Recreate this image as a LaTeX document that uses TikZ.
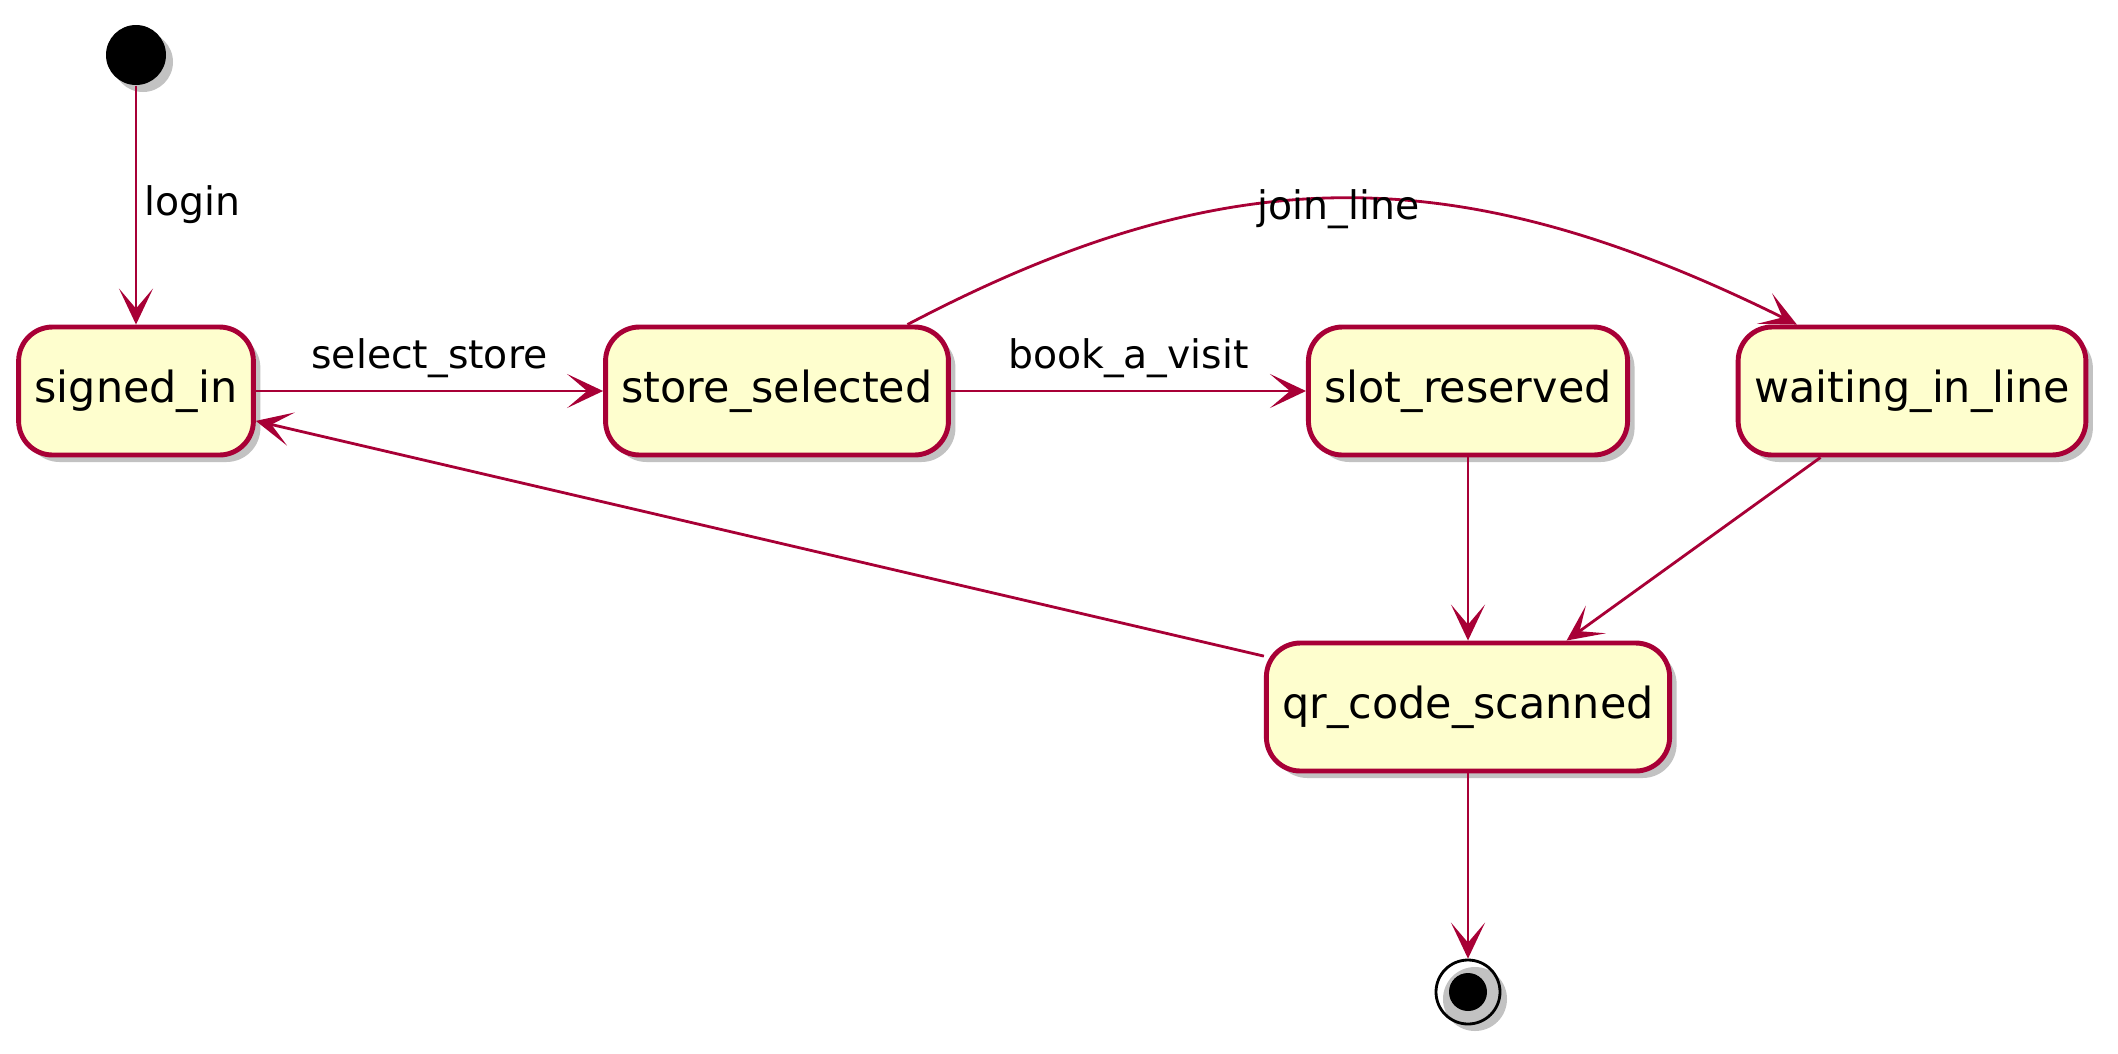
\documentclass[tikz,border=0pt]{standalone}
\usepackage{fontspec}
\setmainfont{DejaVu Sans}
\usepackage{xcolor}
\usetikzlibrary{arrows.meta,shadows}

\definecolor{umlred}{HTML}{A80036}
\definecolor{umlyellow}{HTML}{FEFECE}

\tikzset{
  softshadow/.style={drop shadow={shadow xshift=0.07cm, shadow yshift=-0.07cm, fill=black!40, opacity=0.6}},
  statebox/.style={draw=umlred, line width=1.4pt, fill=umlyellow, rounded corners=0.34cm,
    minimum height=1.28cm, inner xsep=0.16cm, font=\fontsize{12.2}{14}\selectfont, softshadow},
  startdot/.style={circle, fill=black, minimum size=0.6cm, inner sep=0pt, softshadow},
  enddot/.style={circle, draw=black, line width=0.8pt, minimum size=0.64cm, inner sep=0pt, softshadow},
  trans/.style={draw=umlred, line width=0.8pt, -{Stealth[length=3.6mm, width=3.4mm, inset=2mm, umlred]}},
  translabel/.style={font=\fontsize{11.2}{13}\selectfont, text=black},
}

\begin{document}
\begin{tikzpicture}
\useasboundingbox (0,0) rectangle (21.18,-10.53);
%% states
\node[startdot] (start) at (1.36,-0.55) {};
\node[statebox] (signin) at (1.36,-3.91) {signed\_in};
\node[statebox] (store) at (7.77,-3.91) {store\_selected};
\node[statebox] (slot) at (14.68,-3.91) {slot\_reserved};
\node[statebox] (wait) at (19.12,-3.91) {waiting\_in\_line};
\node[statebox] (qr) at (14.68,-7.07) {qr\_code\_scanned};
\node[enddot] (stop) at (14.68,-9.92) {};
\node[circle, fill=black, minimum size=0.38cm, inner sep=0pt] (stopdot) at (stop) {};
%% transitions
\draw[trans] (start) -- node[translabel, right, inner sep=2pt] {login} (signin);
\draw[trans] (signin) -- node[translabel, above] {select\_store} (store);
\draw[trans] (store) -- node[translabel, above] {book\_a\_visit} (slot);
\draw[trans] (store.27) .. controls (12.3,-1.55) and (14.6,-1.58) .. node[translabel, pos=.49, yshift=-3pt] {join\_line} (wait.150);
\draw[trans] (qr.166) -- (signin.346);
\draw[trans] (slot) -- (qr);
\draw[trans] (wait.216) -- (qr.34);
\draw[trans] (qr) -- (stop);
\end{tikzpicture}
\end{document}
